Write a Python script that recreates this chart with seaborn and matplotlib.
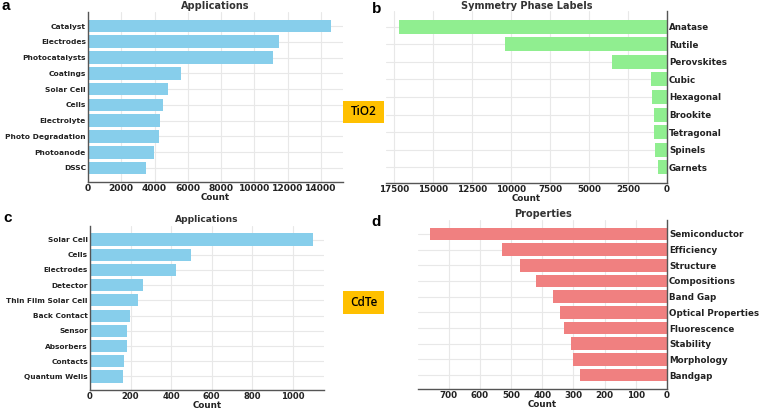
import matplotlib
matplotlib.use("Agg")
import matplotlib.pyplot as plt
import matplotlib.patches as mpatches
import seaborn as sns
import pandas as pd

# ---- data ----
tio2_app_labels = ["Catalyst", "Electrodes", "Photocatalysts", "Coatings", "Solar Cell",
                   "Cells", "Electrolyte", "Photo Degradation", "Photoanode", "DSSC"]
tio2_app_counts = [14600, 11460, 11140, 5580, 4800, 4480, 4340, 4280, 3940, 3480]

tio2_phase_labels = ["Anatase", "Rutile", "Perovskites", "Cubic", "Hexagonal",
                     "Brookite", "Tetragonal", "Spinels", "Garnets"]
tio2_phase_counts = [17150, 10380, 3530, 1050, 960, 850, 810, 750, 580]

cdte_app_labels = ["Solar Cell", "Cells", "Electrodes", "Detector", "Thin Film Solar Cell",
                   "Back Contact", "Sensor", "Absorbers", "Contacts", "Quantum Wells"]
cdte_app_counts = [1098, 496, 425, 261, 235, 195, 181, 180, 166, 161]

cdte_prop_labels = ["Semiconductor", "Efficiency", "Structure", "Compositions", "Band Gap",
                    "Optical Properties", "Fluorescence", "Stability", "Morphology", "Bandgap"]
cdte_prop_counts = [760, 529, 472, 420, 366, 344, 330, 309, 300, 280]

sns.set_style("whitegrid")
plt.rcParams["font.family"] = ["DejaVu Sans"]

W, H = 760, 409
fig = plt.figure(figsize=(W / 100, H / 100), dpi=100)


def axes_px(left, top, right, bottom):
    return fig.add_axes([left / W, (H - bottom) / H, (right - left) / W, (bottom - top) / H])


SPINE = "#555555"
GRID = "#e8e8e8"
TXT = "#222222"


def panel(ax, labels, counts, color, title, xticks, yfs, xfs, tfs, cfs, tpad, mirrored=False):
    df = pd.DataFrame({"label": labels, "count": counts})
    sns.barplot(data=df, x="count", y="label", color=color, saturation=1,
                orient="h", width=0.8, linewidth=0, ax=ax)
    n = len(labels)
    ax.set_ylim(n - 1 + 0.89, -0.89)
    ax.set_xlim(0, max(counts) * 1.05)
    ax.set_xticks(xticks)
    ax.grid(True, color=GRID, linewidth=0.8)
    ax.set_axisbelow(True)
    ax.set_ylabel("")
    ax.set_xlabel("Count", fontsize=cfs, fontweight="bold", color=TXT, labelpad=0)
    ax.set_title(title, fontsize=tfs, fontweight="bold", color="#333333", pad=tpad)
    for s in ax.spines.values():
        s.set_visible(False)
    side = "right" if mirrored else "left"
    for sname in ("bottom", side):
        ax.spines[sname].set_visible(True)
        ax.spines[sname].set_color(SPINE)
        ax.spines[sname].set_linewidth(1.0)
    if mirrored:
        ax.invert_xaxis()
        ax.yaxis.tick_right()
    ax.tick_params(axis="both", length=0, pad=1.5, colors=TXT)
    for lab in ax.get_xticklabels():
        lab.set_fontsize(xfs)
        lab.set_fontweight("bold")
    for lab in ax.get_yticklabels():
        lab.set_fontsize(yfs)
        lab.set_fontweight("bold")


ax_a = axes_px(88, 12, 343, 182)
panel(ax_a, tio2_app_labels, tio2_app_counts, "#87CEEB", "Applications",
      [0, 2000, 4000, 6000, 8000, 10000, 12000, 14000], 5.4, 6.6, 7, 6.3, 2.0)

ax_b = axes_px(386, 11, 667, 183)
panel(ax_b, tio2_phase_labels, tio2_phase_counts, "#90EE90", "Symmetry Phase Labels",
      [0, 2500, 5000, 7500, 10000, 12500, 15000, 17500], 6.3, 6.3, 7, 6.3, 1.5, mirrored=True)

ax_c = axes_px(90, 226, 324, 390)
panel(ax_c, cdte_app_labels, cdte_app_counts, "#87CEEB", "Applications",
      [0, 200, 400, 600, 800, 1000], 5.3, 6.1, 6.6, 6.3, 3.2)

ax_d = axes_px(418, 220, 667, 389)
panel(ax_d, cdte_prop_labels, cdte_prop_counts, "#F08080", "Properties",
      [0, 100, 200, 300, 400, 500, 600, 700], 6.3, 6.3, 7, 6.3, 2.2, mirrored=True)

# panel letters
for letter, x, y in [("a", 2, 6), ("b", 372, 9), ("c", 3, 218), ("d", 371, 222)]:
    fig.text(x / W, 1 - y / H, letter, fontsize=11, fontweight="bold",
             family=["Liberation Sans", "DejaVu Sans"], va="center", ha="left", color="black")

# material tags
for tag, top, bottom in [("TiO2", 101, 123), ("CdTe", 291, 314)]:
    left, right = 343, 384
    fig.patches.append(mpatches.Rectangle((left / W, 1 - bottom / H), (right - left) / W,
                                          (bottom - top) / H, transform=fig.transFigure,
                                          facecolor="#FFC000", edgecolor="none", zorder=5))
    fig.text((left + right) / 2 / W, 1 - (top + bottom) / 2 / H, tag, fontsize=8.5,
             family=["Open Sans", "DejaVu Sans"], fontweight="semibold",
             ha="center", va="center", color="black", zorder=6)

fig.savefig("out.png", dpi=100)
